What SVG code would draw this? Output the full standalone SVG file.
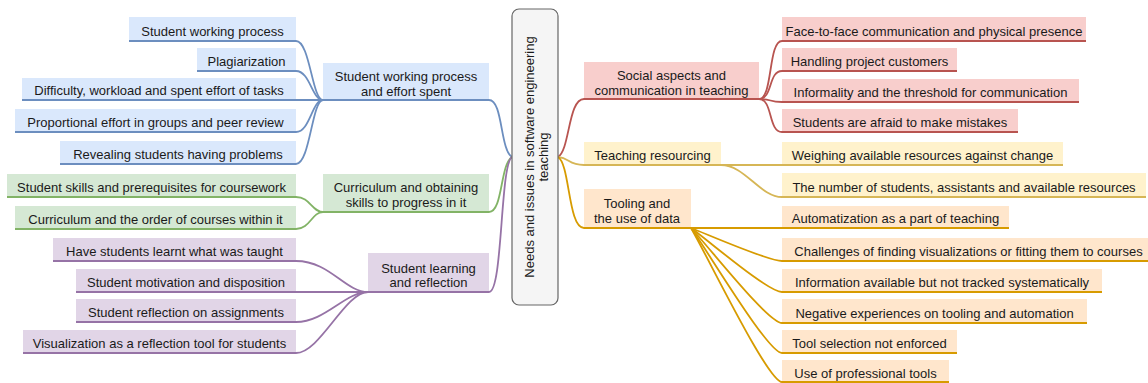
<svg xmlns="http://www.w3.org/2000/svg" width="1148" height="383" viewBox="0 0 1148 383">
<style>
text{font-family:"Liberation Sans",Arial,sans-serif;font-size:13px;fill:#1a1a1a;text-anchor:middle}
.conn path{fill:none;stroke-width:1.8;stroke-linecap:round}
.ul{stroke-width:1.8}
.blue rect{fill:#dae8fc}.blue line,.cb{stroke:#6c8ebf}
.green rect{fill:#d5e8d4}.green line,.cg{stroke:#82b366}
.purple rect{fill:#e1d5e7}.purple line,.cp{stroke:#9673a6}
.red rect{fill:#f8cecc}.red line,.cr{stroke:#b85450}
.yellow rect{fill:#fff2cc}.yellow line,.cy{stroke:#d6b656}
.orange rect{fill:#ffe6cc}.orange line,.co{stroke:#d79b00}
</style>
<rect width="1148" height="383" fill="#ffffff"/>

<g class="conn">
  <!-- center to parents -->
  <path class="cb" d="M489,100 C503,100 500,150 512,157"/>
  <path class="cg" d="M489,212 C503,212 500,164 512,157"/>
  <path class="cp" d="M489,292 C503,292 500,164 512,157"/>
  <path class="cr" d="M558,157 C570,150 568,99 584,99"/>
  <path class="cy" d="M558,157 C570,158 568,165 584,165"/>
  <path class="co" d="M558,157 C570,164 568,228 584,228"/>
  <!-- blue children -->
  <path class="cb" d="M296,41 C310,41 312,100 323,100"/>
  <path class="cb" d="M296,71 C310,71 312,100 323,100"/>
  <path class="cb" d="M296,100 L323,100"/>
  <path class="cb" d="M296,132 C310,132 312,100 323,100"/>
  <path class="cb" d="M296,164 C310,164 312,100 323,100"/>
  <!-- green children -->
  <path class="cg" d="M296,197 C310,197 312,212 323,212"/>
  <path class="cg" d="M296,229 C310,229 312,212 323,212"/>
  <!-- purple children -->
  <path class="cp" d="M296,261 C330,261 345,292 368,292"/>
  <path class="cp" d="M296,292 L368,292"/>
  <path class="cp" d="M296,322 C325,322 345,292 368,292"/>
  <path class="cp" d="M296,353 C320,353 345,292 368,292"/>
  <!-- red children -->
  <path class="cr" d="M759,99 C773,99 768,41 782,41"/>
  <path class="cr" d="M759,99 C773,99 768,71 782,71"/>
  <path class="cr" d="M759,99 C773,99 768,102 782,102"/>
  <path class="cr" d="M759,99 C773,99 768,132 782,132"/>
  <!-- yellow children -->
  <path class="cy" d="M721,165 L782,165"/>
  <path class="cy" d="M721,165 C745,165 760,197 782,197"/>
  <!-- orange children -->
  <path class="co" d="M691,228 L782,228"/>
  <path class="co" d="M691,228 C709,235 768,261 782,261"/>
  <path class="co" d="M691,228 C709,241 768,292 782,292"/>
  <path class="co" d="M691,228 C709,247 768,323 782,323"/>
  <path class="co" d="M691,228 C709,253 768,353 782,353"/>
  <path class="co" d="M691,228 C709,259 768,382 782,382"/>
</g>

<g id="center">
  <rect x="512" y="9" width="46" height="296" rx="7" fill="#f5f5f5" stroke="#666666" stroke-width="1.2"/>
  <text transform="translate(533.5,157) rotate(-90)">Needs and issues in software engineering</text>
  <text transform="translate(547.5,157) rotate(-90)">teaching</text>
</g>

<!-- Blue branch -->
<g id="p-working" class="blue"><rect x="323" y="63" width="166" height="37"/><line class="ul" x1="323" y1="100" x2="489" y2="100"/><text x="406" y="81">Student working process</text><text x="406" y="96">and effort spent</text></g>
<g id="n1" class="blue"><rect x="129" y="17" width="167" height="24"/><line class="ul" x1="129" y1="41" x2="296" y2="41"/><text x="212.5" y="36">Student working process</text></g>
<g id="n2" class="blue"><rect x="197" y="48" width="99" height="23"/><line class="ul" x1="197" y1="71" x2="296" y2="71"/><text x="246.5" y="66">Plagiarization</text></g>
<g id="n3" class="blue"><rect x="22" y="78" width="274" height="22"/><line class="ul" x1="22" y1="100" x2="296" y2="100"/><text x="159" y="95">Difficulty, workload and spent effort of tasks</text></g>
<g id="n4" class="blue"><rect x="15" y="109" width="281" height="23"/><line class="ul" x1="15" y1="132" x2="296" y2="132"/><text x="155.5" y="127">Proportional effort in groups and peer review</text></g>
<g id="n5" class="blue"><rect x="60" y="141" width="236" height="23"/><line class="ul" x1="60" y1="164" x2="296" y2="164"/><text x="178" y="159">Revealing students having problems</text></g>

<!-- Green branch -->
<g id="p-curriculum" class="green"><rect x="323" y="174" width="166" height="38"/><line class="ul" x1="323" y1="212" x2="489" y2="212"/><text x="406" y="192">Curriculum and obtaining</text><text x="406" y="207">skills to progress in it</text></g>
<g id="n6" class="green"><rect x="7" y="174" width="289" height="23"/><line class="ul" x1="7" y1="197" x2="296" y2="197"/><text x="151.5" y="192">Student skills and prerequisites for coursework</text></g>
<g id="n7" class="green"><rect x="15" y="206" width="281" height="23"/><line class="ul" x1="15" y1="229" x2="296" y2="229"/><text x="155.5" y="224">Curriculum and the order of courses within it</text></g>

<!-- Purple branch -->
<g id="p-learning" class="purple"><rect x="368" y="253" width="121" height="39"/><line class="ul" x1="368" y1="292" x2="489" y2="292"/><text x="428.5" y="272.5">Student learning</text><text x="428.5" y="287">and reflection</text></g>
<g id="n8" class="purple"><rect x="53" y="238" width="243" height="23"/><line class="ul" x1="53" y1="261" x2="296" y2="261"/><text x="174.5" y="256">Have students learnt what was taught</text></g>
<g id="n9" class="purple"><rect x="76" y="269" width="220" height="23"/><line class="ul" x1="76" y1="292" x2="296" y2="292"/><text x="186" y="287">Student motivation and disposition</text></g>
<g id="n10" class="purple"><rect x="76" y="299" width="220" height="23"/><line class="ul" x1="76" y1="322" x2="296" y2="322"/><text x="186" y="317">Student reflection on assignments</text></g>
<g id="n11" class="purple"><rect x="23" y="330" width="273" height="23"/><line class="ul" x1="23" y1="353" x2="296" y2="353"/><text x="159.5" y="348">Visualization as a reflection tool for students</text></g>

<!-- Red branch -->
<g id="p-social" class="red"><rect x="584" y="62" width="175" height="37"/><line class="ul" x1="584" y1="99" x2="759" y2="99"/><text x="671.5" y="79.5">Social aspects and</text><text x="671.5" y="94.5">communication in teaching</text></g>
<g id="n12" class="red"><rect x="782" y="17" width="304" height="24"/><line class="ul" x1="782" y1="41" x2="1086" y2="41"/><text x="934" y="36">Face-to-face communication and physical presence</text></g>
<g id="n13" class="red"><rect x="782" y="48" width="175" height="23"/><line class="ul" x1="782" y1="71" x2="957" y2="71"/><text x="869.5" y="66">Handling project customers</text></g>
<g id="n14" class="red"><rect x="782" y="79" width="297" height="23"/><line class="ul" x1="782" y1="102" x2="1079" y2="102"/><text x="930.5" y="97">Informality and the threshold for communication</text></g>
<g id="n15" class="red"><rect x="782" y="109" width="236" height="23"/><line class="ul" x1="782" y1="132" x2="1018" y2="132"/><text x="900" y="127">Students are afraid to make mistakes</text></g>

<!-- Yellow branch -->
<g id="p-resourcing" class="yellow"><rect x="584" y="142" width="137" height="23"/><line class="ul" x1="584" y1="165" x2="721" y2="165"/><text x="652.5" y="160">Teaching resourcing</text></g>
<g id="n16" class="yellow"><rect x="782" y="142" width="281" height="23"/><line class="ul" x1="782" y1="165" x2="1063" y2="165"/><text x="922.5" y="160">Weighing available resources against change</text></g>
<g id="n17" class="yellow"><rect x="782" y="173" width="364" height="24"/><line class="ul" x1="782" y1="197" x2="1146" y2="197"/><text x="964" y="192">The number of students, assistants and available resources</text></g>

<!-- Orange branch -->
<g id="p-tooling" class="orange"><rect x="584" y="189" width="107" height="39"/><line class="ul" x1="584" y1="228" x2="691" y2="228"/><text x="637" y="207.5">Tooling and</text><text x="637" y="222.5">the use of data</text></g>
<g id="n18" class="orange"><rect x="782" y="206" width="227" height="22"/><line class="ul" x1="782" y1="228" x2="1009" y2="228"/><text x="895.5" y="223">Automatization as a part of teaching</text></g>
<g id="n19" class="orange"><rect x="782" y="238" width="373" height="23"/><line class="ul" x1="782" y1="261" x2="1155" y2="261"/><text x="968.5" y="256">Challenges of finding visualizations or fitting them to courses</text></g>
<g id="n20" class="orange"><rect x="782" y="269" width="320" height="23"/><line class="ul" x1="782" y1="292" x2="1102" y2="292"/><text x="942" y="287">Information available but not tracked systematically</text></g>
<g id="n21" class="orange"><rect x="782" y="299" width="305" height="24"/><line class="ul" x1="782" y1="323" x2="1087" y2="323"/><text x="934.5" y="318">Negative experiences on tooling and automation</text></g>
<g id="n22" class="orange"><rect x="782" y="330" width="175" height="23"/><line class="ul" x1="782" y1="353" x2="957" y2="353"/><text x="869.5" y="348">Tool selection not enforced</text></g>
<g id="n23" class="orange"><rect x="782" y="360" width="167" height="22"/><line class="ul" x1="782" y1="382" x2="949" y2="382"/><text x="865.5" y="377.5">Use of professional tools</text></g>
</svg>
